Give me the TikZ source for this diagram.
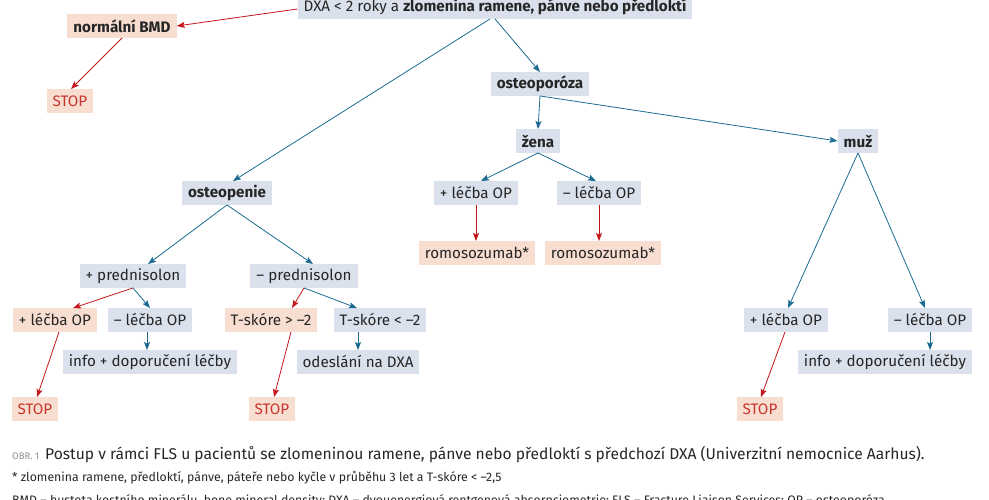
\documentclass[tikz,border=0pt]{standalone}
\usepackage{fontspec}
\setmainfont{Fira Sans}
\usetikzlibrary{arrows.meta}

\definecolor{boxblue}{HTML}{DAE1EC}
\definecolor{boxred}{HTML}{F8DDD1}
\definecolor{lineblue}{HTML}{1B6A91}
\definecolor{linered}{HTML}{C4161C}
\definecolor{txtred}{HTML}{C8352B}
\definecolor{txtdark}{HTML}{262626}

\begin{document}
\begin{tikzpicture}[x=1pt,y=-1pt,
        yes/.style={fill=boxblue, text=txtdark, font=\fontsize{15.2}{17}\selectfont, inner xsep=6pt, inner ysep=0pt, minimum height=23.5pt},
        no/.style={yes, fill=boxred},
        head/.style={yes, font=\fontsize{15.2}{17}\selectfont\bfseries},
        stop/.style={no, text=txtred},
        go/.style={draw=lineblue, line width=0.8pt, -{Stealth[length=8pt,width=6pt,inset=1.5pt]}},
        halt/.style={go, draw=linered},
        capt/.style={anchor=base west, inner sep=0pt, text=txtdark}
    ]
    \useasboundingbox (0,0) rectangle (989,500);

    % first level
    \node[yes] (dxa) at (495,7) {DXA < 2 roky a \textbf{zlomenina ramene, pánve nebo předloktí}};
    \node[head, fill=boxred] (normal) at (122,26) {normální BMD};
    \node[stop] (stopA) at (70,101) {STOP};
    \node[head] (porosis) at (540,84) {osteoporóza};
    \node[head] (penie) at (227,193) {osteopenie};

    % osteoporosis branch
    \node[head] (zena) at (538,141) {žena};
    \node[head] (muz) at (858,141) {muž};
    \node[yes] (zPlus) at (476,193) {+ léčba OP};
    \node[yes] (zMinus) at (599,193) {– léčba OP};
    \node[no] (romoA) at (477,253) {romosozumab*};
    \node[no] (romoB) at (603,253) {romosozumab*};
    \node[yes] (mPlus) at (786,320) {+ léčba OP};
    \node[yes] (mMinus) at (930,320) {– léčba OP};
    \node[yes] (mInfo) at (885,362) {info + doporučení léčby};
    \node[stop] (stopD) at (760,409) {STOP};

    % osteopenia branch
    \node[yes] (predPlus) at (133,276) {+ prednisolon};
    \node[yes] (predMinus) at (304,276) {– prednisolon};
    \node[no] (pPlus) at (55,320) {+ léčba OP};
    \node[yes] (pMinus) at (150,320) {– léčba OP};
    \node[yes] (pInfo) at (150,362) {info + doporučení léčby};
    \node[stop] (stopB) at (35,409) {STOP};
    \node[no] (tHigh) at (271,320) {T-skóre > –2};
    \node[yes] (tLow) at (380,320) {T-skóre < –2};
    \node[yes] (sendDxa) at (358,362) {odeslání na DXA};
    \node[stop] (stopC) at (272,409) {STOP};

    % connectors
    \draw[halt] ([yshift=-2pt]dxa.west) -- (normal.east);
    \draw[halt] (normal.south) -- ([xshift=1pt]stopA.north);
    \draw[go] ([xshift=-5pt]dxa.south) -- ([xshift=6pt]penie.north);
    \draw[go] (dxa.south) -- (porosis.north);
    \draw[go] (porosis.south) -- (zena.north);
    \draw[go] (porosis.south) -- (muz.west);
    \draw[go] (zena.south) -- ([xshift=5pt]zPlus.north);
    \draw[go] (zena.south) -- ([xshift=-3pt]zMinus.north);
    \draw[halt] (zPlus.south) -- (zPlus.south |- romoA.north);
    \draw[halt] (zMinus.south) -- (zMinus.south |- romoB.north);
    \draw[go] (muz.south) -- ([xshift=2pt]mPlus.north);
    \draw[go] (muz.south) -- ([xshift=-5pt]mMinus.north);
    \draw[go] (mMinus.south) -- (mMinus.south |- mInfo.north);
    \draw[halt] ([xshift=-1pt]mPlus.south) -- ([xshift=1pt]stopD.north);
    \draw[go] (penie.south) -- ([xshift=15pt]predPlus.north);
    \draw[go] (penie.south) -- ([xshift=9pt]predMinus.north);
    \draw[halt] (predPlus.south) -- ([xshift=18pt]pPlus.north);
    \draw[go] (predPlus.south) -- (pMinus.north);
    \draw[halt] (predMinus.south) -- ([xshift=21pt]tHigh.north);
    \draw[go] (predMinus.south) -- ([xshift=-23pt]tLow.north);
    \draw[go] ([xshift=-3pt]pMinus.south) -- ([xshift=-3pt]pMinus.south |- pInfo.north);
    \draw[go] ([xshift=-22pt]tLow.south) -- ([xshift=-22pt]tLow.south |- sendDxa.north);
    \draw[halt] ([xshift=4pt]pPlus.south) -- ([xshift=2pt]stopB.north);
    \draw[halt] ([xshift=20pt]tHigh.south) -- ([xshift=2pt]stopC.north);

    % caption
    \node[capt, text=black!45, font=\fontsize{9.5}{10}\selectfont] (obr) at (12,459) {OBR. 1};
    \node[capt, font=\fontsize{15.6}{17}\selectfont] (caption) at (45,459) {Postup v rámci FLS u pacientů se zlomeninou ramene, pánve nebo předloktí s předchozí DXA (Univerzitní nemocnice Aarhus).};
    \node[capt, font=\fontsize{12.3}{14}\selectfont] (note) at (12,481) {* zlomenina ramene, předloktí, pánve, páteře nebo kyčle v průběhu 3 let a T-skóre < –2,5};
    \node[capt, font=\fontsize{12.3}{14}\selectfont] (abbr) at (12,504) {BMD – hustota kostního minerálu, bone mineral density; DXA – dvouenergiová rentgenová absorpciometrie; FLS – Fracture Liaison Services; OP – osteoporóza};
\end{tikzpicture}
\end{document}
